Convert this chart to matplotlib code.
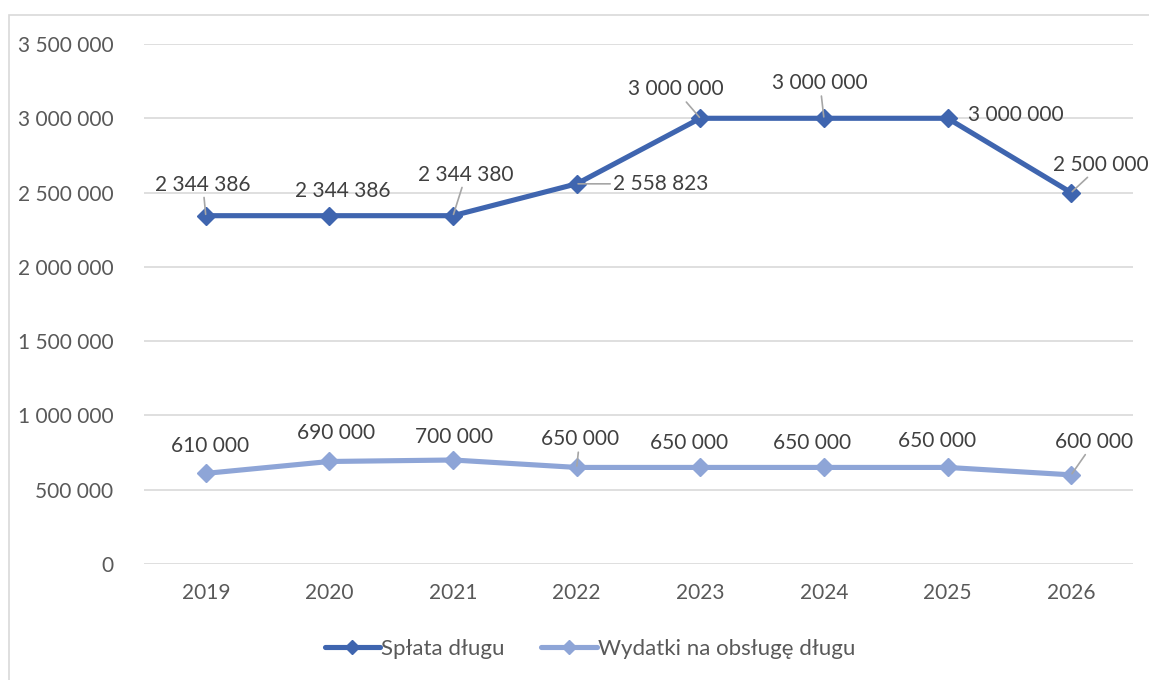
import matplotlib.pyplot as plt
from matplotlib.patches import Rectangle
from matplotlib.ticker import FuncFormatter

years = ['2019', '2020', '2021', '2022', '2023', '2024', '2025', '2026']
splata = [2344386, 2344386, 2344380, 2558823, 3000000, 3000000, 3000000, 2500000]
wydatki = [610000, 690000, 700000, 650000, 650000, 650000, 650000, 600000]
series_names = ['Spłata długu', 'Wydatki na obsługę długu']

# label offsets in pixels (dx, dy) and whether a leader line is drawn
off1 = [(-3, 31), (13, 25), (13, 41), (84, 0), (-25, 29), (-4, 35), (68, 3), (30, 28)]
lead1 = [True, False, True, True, True, True, False, True]
off2 = [(4, 27), (7, 28), (1, 23), (3, 28), (-11, 24), (-12, 24), (-11, 26), (23, 33)]
lead2 = [False, False, False, True, False, False, False, True]

dark = '#3F65AF'
light = '#8EA5D7'
txt = '#404040'
grey = '#595959'

plt.rcParams['font.family'] = ['Lato', 'DejaVu Sans']

fig = plt.figure(figsize=(11.49, 6.8), dpi=100)
fig.patches.append(Rectangle((9 / 1149, -0.05), 1.1, 0.05 + 1 - 15 / 680,
                             transform=fig.transFigure, fill=False,
                             edgecolor='#D9D9D9', lw=1.2))
ax = fig.add_axes([144 / 1149, 1 - 564 / 680, (1133 - 144) / 1149, (564 - 44) / 680])

x = list(range(len(years)))
ax.plot(x, splata, color=dark, lw=3.7, marker='D', ms=9, label=series_names[0],
        solid_joinstyle='round', solid_capstyle='round', zorder=3)
ax.plot(x, wydatki, color=light, lw=3.7, marker='D', ms=9, label=series_names[1],
        solid_joinstyle='round', solid_capstyle='round', zorder=3)

def fmt(v):
    return '{:,}'.format(int(v)).replace(',', ' ')

for vals, offs, leads in [(splata, off1, lead1), (wydatki, off2, lead2)]:
    for i, v in enumerate(vals):
        ap = None
        if leads[i]:
            ap = dict(arrowstyle='-', color='#A6A6A6', lw=1.2, shrinkA=0, shrinkB=1)
        ax.annotate(fmt(v), (i, v), xytext=offs[i], textcoords='offset pixels',
                    ha='center', va='center', fontsize=15, color=txt,
                    arrowprops=ap, annotation_clip=False, zorder=4)

ax.set_xlim(-0.5, len(years) - 0.5)
ax.set_ylim(0, 3500000)
ax.set_yticks(range(0, 3500001, 500000))
ax.yaxis.set_major_formatter(FuncFormatter(lambda v, p: fmt(v)))
ax.set_xticks(x)
ax.set_xticklabels(years)
ax.grid(axis='y', color='#D9D9D9', lw=1.2)
ax.set_axisbelow(True)
for s in ax.spines.values():
    s.set_visible(False)
ax.tick_params(length=0, labelsize=15, labelcolor=grey)
ax.tick_params(axis='y', pad=22)
ax.tick_params(axis='x', pad=14)

leg = ax.legend(loc='center', bbox_to_anchor=(590 / 1149, 1 - 649 / 680),
                bbox_transform=fig.transFigure, ncol=2, frameon=False, fontsize=16,
                labelcolor=grey, handlelength=2.5, handletextpad=0.05,
                columnspacing=1.65, markerscale=0.8)

fig.savefig('out.png', dpi=100)
